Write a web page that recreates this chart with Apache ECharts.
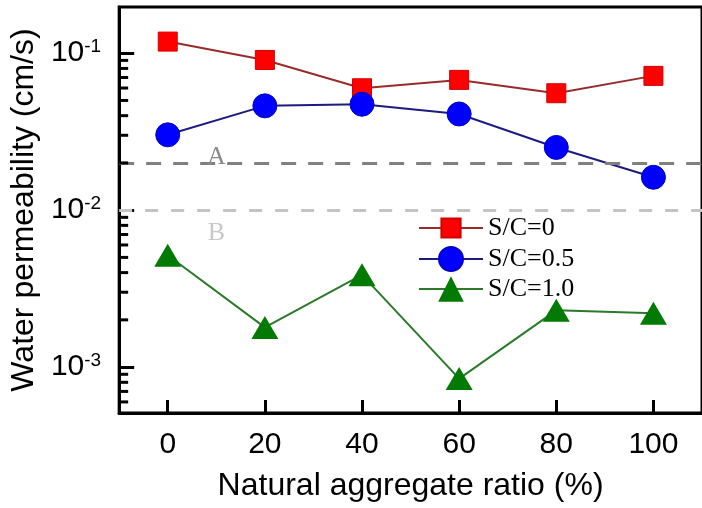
<!DOCTYPE html>
<html>
<head>
<meta charset="utf-8">
<script src="https://cdn.jsdelivr.net/npm/echarts@6/dist/echarts.min.js"></script>
<style>
  html, body { margin: 0; padding: 0; background: #fff; }
  #chart { width: 702px; height: 508px; }
</style>
</head>
<body>
<div id="chart"></div>
<script>
// ---- data ----
const xValues = [0, 20, 40, 60, 80, 100];
const seriesNames = ['S/C=0', 'S/C=0.5', 'S/C=1.0'];
const sc0  = [0.1186, 0.0906, 0.0598, 0.0676, 0.0556, 0.0717];
const sc05 = [0.0302, 0.0462, 0.0473, 0.0410, 0.0251, 0.0162];
const sc10 = [0.00516, 0.00179, 0.00387, 0.000845, 0.00230, 0.00220];
const xTickValues = [0, 20, 40, 60, 80, 100];
const yMinorTickValues = [0.0006, 0.0007, 0.0008, 0.0009,
  0.002, 0.003, 0.004, 0.005, 0.006, 0.007, 0.008, 0.009,
  0.02, 0.03, 0.04, 0.05, 0.06, 0.07, 0.08, 0.09];
const refLineValues = [0.02, 0.01];
const refLineLabels = ['A', 'B'];
const refLabelX = 10;

const pairs = arr => xValues.map((x, i) => [x, arr[i]]);

const chart = echarts.init(document.getElementById('chart'), null, { renderer: 'canvas' });
const sans = 'Liberation Sans, Arial, sans-serif';
const serif = 'Liberation Serif, Times New Roman, serif';

const legendBase = {
  left: 418, itemWidth: 64, orient: 'horizontal', padding: 0,
  textStyle: { fontFamily: serif, fontSize: 26, color: '#000' },
  selectedMode: false
};

const option = {
  animation: false,
  backgroundColor: '#fff',
  grid: { left: 118, top: 7, right: -6, bottom: 95, show: true, borderColor: '#000', borderWidth: 3, backgroundColor: 'transparent' },
  legend: [
    Object.assign({}, legendBase, { data: [seriesNames[0]], top: 227 - 12, itemHeight: 24 }),
    Object.assign({}, legendBase, { data: [seriesNames[1]], top: 261 - 15, itemHeight: 30 }),
    Object.assign({}, legendBase, { data: [seriesNames[2]], top: 292 - 16, itemHeight: 32 })
  ],
  xAxis: {
    type: 'value', min: -10, max: 110,
    name: 'Natural aggregate ratio (%)', nameLocation: 'middle', nameGap: 57,
    nameTextStyle: { fontFamily: sans, fontSize: 32, color: '#000' },
    axisLine: { show: true, onZero: false, lineStyle: { color: '#000', width: 3 } },
    axisTick: { show: true, inside: true, length: 13, lineStyle: { color: '#000', width: 3 }, customValues: xTickValues },
    axisLabel: { fontFamily: sans, fontSize: 30, color: '#000', margin: 17, customValues: xTickValues },
    splitLine: { show: false }
  },
  yAxis: {
    type: 'log', min: 0.00051, max: 0.197, logBase: 10,
    name: 'Water permeability (cm/s)', nameLocation: 'middle', nameGap: 72,
    nameTextStyle: { fontFamily: sans, fontSize: 32, color: '#000' },
    axisLine: { show: true, onZero: false, lineStyle: { color: '#000', width: 3 } },
    axisTick: { show: true, inside: true, length: 15, lineStyle: { color: '#000', width: 3 } },
    axisLabel: {
      showMinLabel: false, showMaxLabel: false, margin: 18,
      formatter: v => '{b|10}{s|' + Math.round(Math.log10(v)) + '}',
      rich: {
        b: { fontFamily: sans, fontSize: 30, color: '#000', lineHeight: 32 },
        s: { fontFamily: sans, fontSize: 19, color: '#000', lineHeight: 13, verticalAlign: 'top' }
      }
    },
    splitLine: { show: false }
  },
  series: [{
    name: 'minorTicks', type: 'custom', silent: true, z: 5,
    data: yMinorTickValues.map(v => [xValues[0], v]),
    renderItem: (params, api) => {
      const y = api.coord([api.value(0), api.value(1)])[1];
      const x0 = params.coordSys.x;
      return { type: 'line', shape: { x1: x0, y1: y, x2: x0 + 9, y2: y }, style: { stroke: '#000', lineWidth: 3 } };
    }
  }, {
    name: seriesNames[0], type: 'line', data: pairs(sc0),
    symbol: 'rect', symbolSize: 19,
    lineStyle: { color: '#9a2b2b', width: 2 },
    itemStyle: { color: '#ff0000', borderColor: '#d40000', borderWidth: 1 }
  }, {
    name: seriesNames[1], type: 'line', data: pairs(sc05),
    symbol: 'circle', symbolSize: 24,
    lineStyle: { color: '#1c1c80', width: 2 },
    itemStyle: { color: '#0000ff', borderColor: '#0000cc', borderWidth: 1 }
  }, {
    name: seriesNames[2], type: 'line', data: pairs(sc10),
    symbol: 'triangle', symbolSize: [27, 23],
    lineStyle: { color: '#2a7a2a', width: 2 },
    itemStyle: { color: '#037a03' },
    markLine: {
      silent: true, symbol: 'none', label: { show: false },
      data: [
        { yAxis: refLineValues[0], lineStyle: { color: '#808080', type: [15, 12], width: 3 } },
        { yAxis: refLineValues[1], lineStyle: { color: '#c4c4c4', type: [13, 13], width: 3 } }
      ]
    },
    markPoint: {
      silent: true, symbol: 'rect', symbolSize: 1, itemStyle: { color: 'rgba(0,0,0,0)' },
      data: [
        { coord: [refLabelX, refLineValues[0]], label: { show: true, formatter: refLineLabels[0], position: 'inside', offset: [0, -6], fontFamily: serif, fontSize: 26, color: '#8a8a8a' } },
        { coord: [refLabelX, refLineValues[1]], label: { show: true, formatter: refLineLabels[1], position: 'inside', offset: [0, 23], fontFamily: serif, fontSize: 26, color: '#c8c8c8' } }
      ]
    }
  }]
};
chart.setOption(option);
</script>
</body>
</html>
